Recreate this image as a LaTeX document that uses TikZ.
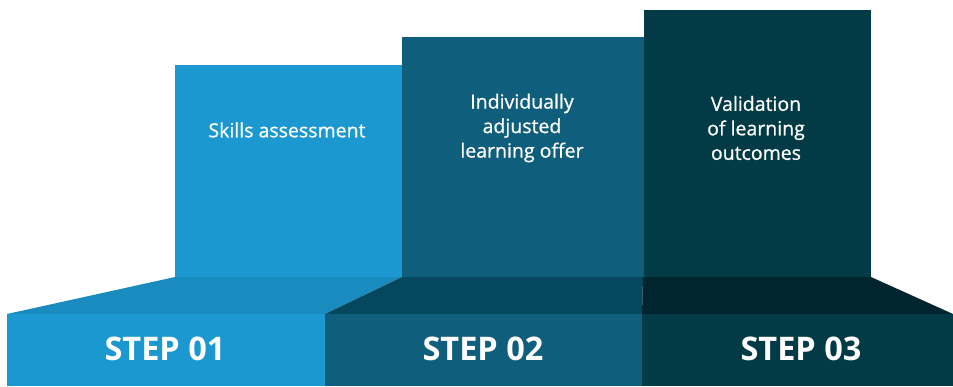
\documentclass[tikz,border=0pt]{standalone}
\usepackage{fontspec}
\setmainfont{Open Sans}
\newfontfamily\medfont[FakeBold=0.8]{Open Sans}
\definecolor{baronea}{HTML}{1B98D0}
\definecolor{bandonea}{HTML}{198BBE}
\definecolor{bartwob}{HTML}{0F5E7C}
\definecolor{bandtwob}{HTML}{05475F}
\definecolor{barthreec}{HTML}{023B45}
\definecolor{bandthreec}{HTML}{00252E}
\tikzset{
  boxtext/.style={text=white, align=center, font=\medfont\fontsize{19.5}{24.5}\selectfont, inner sep=0pt},
  steptext/.style={text=white, font=\fontsize{32.5}{34}\selectfont\bfseries, inner sep=0pt, anchor=base}
}
\begin{document}
\begin{tikzpicture}[x=1pt,y=-1pt]
\useasboundingbox (0,0) rectangle (953,386);
% upper boxes
\fill[baronea] (175,65) rectangle (402,277);
\fill[bartwob] (402,37) rectangle (644,277);
\fill[barthreec] (644,10) rectangle (871,277);
% bands
\fill[bandonea] (7,314) -- (175,277) -- (402,277) -- (325,314) -- cycle;
\fill[bandtwob] (325,314) -- (402,277) -- (643,277) -- (642,314) -- cycle;
\fill[bandthreec] (642,314) -- (643,277) -- (871,277) -- (953,314) -- cycle;
% bars
\fill[baronea] (7,314) rectangle (325,386);
\fill[bartwob] (325,314) rectangle (642,386);
\fill[barthreec] (642,314) rectangle (953,386);
% texts
\node[boxtext] (t1) at (287,130) {Skills assessment};
\node[boxtext] (t2) at (522,128) {Individually\\adjusted\\learning offer};
\node[boxtext] (t3) at (756,128) {Validation\\of learning\\outcomes};
\node[steptext] (s1) at (165,360) {STEP 01};
\node[steptext] (s2) at (483,360) {STEP 02};
\node[steptext] (s3) at (801,360) {STEP 03};
\end{tikzpicture}
\end{document}
